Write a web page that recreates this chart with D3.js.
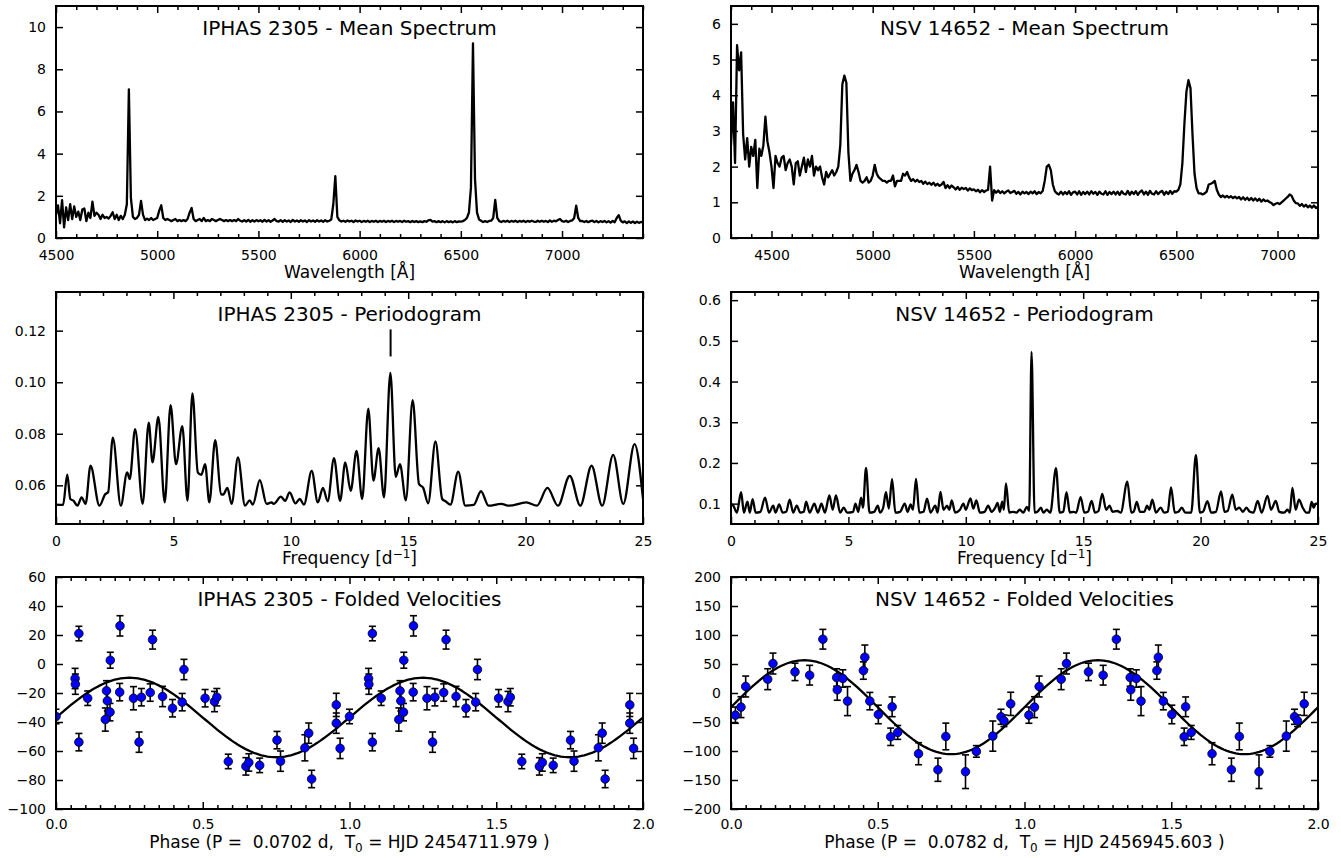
<!DOCTYPE html>
<html>
<head>
<meta charset="utf-8">
<script src="https://cdn.jsdelivr.net/npm/d3@7"></script>
<style>
  body { margin: 0; background: #fff; }
  svg text { font-family: "DejaVu Sans", sans-serif; fill: #000; white-space: pre; }
</style>
</head>
<body>
<svg id="fig" width="1341" height="858"></svg>
<script>
// ---------- Mean spectra (flux sampled every 10 Å) ----------
const specAStart = 4500, specAStep = 10;   // IPHAS 2305
const specAFlux = [
  1.10,1.55,0.70,1.80,0.50,1.45,0.85,1.60,0.90,1.50,
  1.00,1.25,0.85,1.35,1.40,0.80,1.20,0.95,1.72,1.05,
  1.20,1.10,0.90,1.10,0.95,1.00,0.92,1.05,1.22,0.90,
  1.10,0.85,1.05,0.90,1.10,1.60,7.05,1.90,1.00,0.90,
  0.95,1.10,1.76,1.10,0.85,0.92,0.85,0.95,0.85,0.90,
  0.95,1.30,1.55,0.95,0.85,0.90,0.85,0.80,0.85,0.90,
  0.80,0.85,0.80,0.85,0.80,0.90,1.20,1.42,0.90,0.80,
  0.85,0.90,0.80,0.95,0.80,0.85,0.80,0.90,0.85,0.80,
  0.85,0.90,0.85,0.80,0.85,0.80,0.85,0.80,0.85,0.80,
  0.90,0.82,0.78,0.85,0.78,0.86,0.77,0.84,0.78,0.85,
  0.79,0.84,0.77,0.86,0.78,0.84,0.77,0.83,0.90,0.80,
  0.78,0.85,0.77,0.84,0.78,0.83,0.76,0.86,0.78,0.83,
  0.77,0.84,0.78,0.83,0.76,0.85,0.78,0.83,0.77,0.84,
  0.78,0.83,0.77,0.84,0.78,0.82,0.88,1.60,2.93,1.00,
  0.84,0.78,0.82,0.77,0.83,0.78,0.82,0.76,0.83,0.78,
  0.82,0.76,0.81,0.77,0.82,0.76,0.81,0.77,0.82,0.76,
  0.81,0.77,0.82,0.76,0.81,0.77,0.82,0.76,0.81,0.77,
  0.81,0.76,0.82,0.77,0.80,0.75,0.81,0.76,0.80,0.75,
  0.79,0.75,0.80,0.77,0.84,0.86,0.78,0.80,0.75,0.80,
  0.75,0.80,0.74,0.80,0.75,0.79,0.74,0.80,0.75,0.79,
  0.78,0.80,0.85,0.95,1.20,2.40,9.23,2.80,1.20,0.88,
  0.82,0.76,0.80,0.76,0.81,0.82,0.95,1.81,0.95,0.80,
  0.76,0.81,0.77,0.82,0.76,0.81,0.77,0.82,0.76,0.81,
  0.77,0.82,0.76,0.81,0.77,0.82,0.78,0.76,0.82,0.77,
  0.82,0.77,0.81,0.76,0.83,0.77,0.82,0.79,0.85,0.90,
  0.80,0.77,0.82,0.76,0.81,0.83,0.95,1.53,0.95,0.80,
  0.81,0.76,0.81,0.75,0.80,0.82,0.76,0.81,0.74,0.80,
  0.76,0.81,0.74,0.80,0.73,0.81,0.75,0.95,1.08,0.82,
  0.74,0.79,0.71,0.79,0.72,0.78,0.71,0.77,0.72,0.76,
  0.74
];

const specBStart = 4300, specBStep = 10;   // NSV 14652
const specBFlux = [
  2.60,3.80,2.10,5.40,4.70,5.20,2.90,2.20,2.80,2.00,
  2.55,2.30,2.75,1.40,2.50,2.30,2.60,3.40,2.70,2.40,
  2.00,1.40,2.30,2.10,2.00,2.25,2.30,1.90,2.10,2.20,
  2.00,1.50,2.10,2.15,1.75,2.00,2.25,1.85,2.20,2.00,
  2.30,1.75,2.00,1.90,2.00,1.70,1.50,1.85,1.70,1.80,
  1.90,1.75,1.85,2.00,2.60,4.30,4.55,4.35,2.40,1.60,
  1.80,1.90,2.05,1.85,1.60,1.55,1.60,1.70,1.55,1.60,
  1.75,2.05,1.80,1.70,1.65,1.60,1.60,1.55,1.60,1.60,
  1.75,1.45,1.60,1.60,1.60,1.80,1.75,1.85,1.70,1.60,
  1.65,1.58,1.63,1.57,1.60,1.52,1.58,1.51,1.55,1.49,
  1.55,1.47,1.52,1.46,1.50,1.57,1.40,1.48,1.40,1.47,
  1.42,1.36,1.43,1.35,1.41,1.37,1.40,1.33,1.39,1.34,
  1.36,1.31,1.35,1.28,1.34,1.29,1.33,1.35,2.00,1.05,
  1.34,1.27,1.33,1.26,1.31,1.25,1.30,1.33,1.26,1.29,
  1.32,1.24,1.29,1.22,1.30,1.25,1.29,1.23,1.30,1.25,
  1.31,1.23,1.29,1.25,1.32,1.60,2.00,2.05,1.90,1.50,
  1.31,1.25,1.22,1.30,1.22,1.29,1.23,1.31,1.21,1.28,
  1.30,1.22,1.31,1.21,1.29,1.23,1.30,1.22,1.31,1.24,
  1.29,1.21,1.30,1.24,1.22,1.31,1.21,1.29,1.23,1.30,
  1.22,1.30,1.21,1.31,1.24,1.22,1.32,1.21,1.30,1.23,
  1.31,1.21,1.29,1.33,1.22,1.30,1.21,1.32,1.24,1.22,
  1.31,1.23,1.29,1.32,1.21,1.30,1.23,1.32,1.24,1.31,
  1.30,1.35,1.50,2.10,3.20,4.10,4.42,4.20,2.90,1.80,
  1.40,1.25,1.25,1.22,1.25,1.30,1.50,1.52,1.55,1.60,
  1.35,1.22,1.15,1.19,1.14,1.18,1.13,1.17,1.12,1.16,
  1.11,1.15,1.08,1.14,1.07,1.13,1.06,1.12,1.05,1.11,
  1.04,1.10,1.02,1.08,1.03,1.05,1.01,0.98,0.92,0.96,
  0.98,0.95,1.00,1.05,1.10,1.15,1.22,1.18,1.05,0.98,
  0.97,0.90,0.95,0.88,0.93,0.86,0.91,0.85,0.91,0.84,
  0.88
];

// ---------- Periodograms: [frequency (1/d), power] ----------
const pgramA = [
  [0,0.0525],[0.3,0.0524],[0.48,0.0641],[0.61,0.0547],[0.75,0.054],[0.91,0.0521],[1.09,0.0553],
  [1.26,0.0528],[1.47,0.0676],[1.85,0.0521],[2.1,0.0566],[2.22,0.0573],[2.42,0.0785],[2.76,0.0521],
  [3.03,0.065],[3.14,0.0624],[3.37,0.0818],[3.69,0.0528],[3.95,0.0843],[4.11,0.0689],[4.36,0.0865],
  [4.63,0.0534],[4.88,0.0911],[5.11,0.0682],[5.38,0.083],[5.6,0.054],[5.81,0.0957],[6.04,0.065],
  [6.19,0.0641],[6.35,0.0682],[6.53,0.0534],[6.78,0.0775],[7.03,0.0566],[7.12,0.0564],[7.3,0.059],
  [7.48,0.0528],[7.75,0.0708],[8.05,0.0521],[8.25,0.0542],[8.38,0.0525],[8.68,0.062],[8.97,0.0528],
  [9.18,0.0534],[9.27,0.0528],[9.58,0.0556],[9.76,0.054],[9.95,0.0573],[10.2,0.053],[10.38,0.0547],
  [10.56,0.0525],[10.89,0.0656],[11.15,0.0534],[11.37,0.059],[11.57,0.0538],[11.84,0.0705],
  [12.1,0.054],[12.32,0.0689],[12.55,0.0579],[12.8,0.0734],[13.04,0.0547],[13.3,0.0897],
  [13.52,0.0618],[13.74,0.0744],[13.97,0.0553],[14.24,0.1036],[14.47,0.0633],[14.65,0.0682],
  [14.9,0.0542],[15.19,0.093],[15.46,0.0605],[15.64,0.059],[15.85,0.053],[16.16,0.077],
  [16.45,0.0547],[16.59,0.0538],[16.8,0.0525],[17.13,0.0653],[17.43,0.0521],[17.79,0.0524],
  [18.1,0.0577],[18.42,0.0521],[18.96,0.0528],[19.3,0.0521],[20.03,0.0534],[20.48,0.0521],
  [20.93,0.059],[21.38,0.0521],[21.88,0.0637],[22.33,0.0521],[22.81,0.0676],[23.26,0.0521],
  [23.73,0.0718],[24.16,0.0528],[24.64,0.076],[25,0.0547]
];
const pgramAMarkFreq = 14.25, pgramAMarkRange = [0.110, 0.1205];

const pgramB = [
  [0.0,0.10],[0.1,0.095],[0.25,0.078],[0.43,0.128],[0.55,0.078],[0.7,0.105],[0.8,0.078],[0.92,0.111],
  [1.05,0.078],[1.25,0.08],[1.45,0.115],[1.62,0.078],[1.8,0.095],[1.9,0.078],[2.05,0.098],[2.2,0.078],
  [2.35,0.08],[2.5,0.11],[2.65,0.078],[2.8,0.095],[2.95,0.078],[3.1,0.08],[3.2,0.105],[3.35,0.078],
  [3.55,0.1],[3.7,0.078],[3.85,0.1],[4.0,0.078],[4.19,0.12],[4.33,0.085],[4.47,0.12],[4.65,0.078],
  [4.8,0.09],[4.95,0.078],[5.2,0.08],[5.3,0.1],[5.42,0.08],[5.54,0.115],[5.62,0.09],[5.75,0.188],
  [5.9,0.078],[6.1,0.08],[6.25,0.095],[6.35,0.078],[6.48,0.09],[6.6,0.128],[6.72,0.088],[6.86,0.16],
  [7.0,0.078],[7.2,0.08],[7.4,0.1],[7.52,0.08],[7.65,0.098],[7.75,0.085],[7.88,0.161],[8.02,0.078],
  [8.2,0.08],[8.35,0.112],[8.5,0.078],[8.7,0.095],[8.8,0.078],[8.92,0.129],[9.05,0.085],[9.2,0.095],
  [9.3,0.085],[9.4,0.108],[9.55,0.078],[9.75,0.085],[9.9,0.1],[10.0,0.085],[10.2,0.113],[10.32,0.088],
  [10.45,0.108],[10.6,0.078],[10.8,0.08],[10.95,0.095],[11.1,0.08],[11.25,0.09],[11.35,0.102],
  [11.45,0.08],[11.55,0.105],[11.62,0.085],[11.71,0.15],[11.85,0.078],[12.0,0.08],[12.15,0.078],
  [12.3,0.085],[12.45,0.078],[12.6,0.092],[12.7,0.082],[12.8,0.473],[12.93,0.078],[13.05,0.08],
  [13.2,0.09],[13.3,0.078],[13.45,0.085],[13.6,0.078],[13.84,0.187],[14.0,0.078],[14.15,0.08],
  [14.29,0.128],[14.43,0.078],[14.6,0.08],[14.7,0.078],[14.89,0.116],[15.05,0.078],[15.2,0.08],
  [15.36,0.107],[15.5,0.078],[15.65,0.082],[15.81,0.124],[15.98,0.085],[16.12,0.095],[16.25,0.08],
  [16.45,0.082],[16.6,0.078],[16.88,0.154],[17.05,0.078],[17.15,0.08],[17.28,0.104],[17.42,0.08],
  [17.6,0.08],[17.72,0.095],[17.82,0.085],[17.94,0.11],[18.1,0.078],[18.3,0.09],[18.45,0.078],
  [18.6,0.08],[18.74,0.14],[18.9,0.078],[19.05,0.08],[19.2,0.09],[19.35,0.078],[19.6,0.078],
  [19.8,0.22],[19.97,0.078],[20.1,0.08],[20.29,0.106],[20.45,0.078],[20.65,0.08],[20.87,0.13],
  [21.02,0.08],[21.15,0.082],[21.35,0.122],[21.5,0.085],[21.65,0.09],[21.8,0.08],[21.95,0.09],
  [22.1,0.08],[22.25,0.078],[22.43,0.107],[22.6,0.078],[22.85,0.119],[23.0,0.085],[23.2,0.107],
  [23.35,0.08],[23.55,0.078],[23.7,0.085],[23.8,0.078],[23.91,0.139],[24.05,0.085],[24.19,0.11],
  [24.35,0.09],[24.5,0.078],[24.62,0.078],[24.73,0.104],[24.82,0.09],[24.9,0.1],[25.0,0.1]
];

// ---------- Radial velocities: [phase, velocity (km/s), error] ----------
const rvA = [
  [0.000,-36.2,5],[0.065,-10.0,7],[0.066,-13.9,7],[0.078,21.0,5],[0.078,-53.9,6],[0.108,-23.6,5],
  [0.168,-38.3,8],[0.172,-18.5,7],[0.175,-25.4,7],[0.184,-33.2,6],[0.185,2.6,5.5],[0.217,-19.4,6],
  [0.218,26.3,7],[0.264,-23.6,8],[0.283,-53.9,7],[0.291,-22.9,6],[0.321,-19.7,6],[0.329,16.8,6.5],
  [0.363,-22.4,7],[0.397,-30.5,6],[0.430,-26.3,6],[0.436,-3.8,7],[0.508,-23.6,6],[0.540,-25.9,7],
  [0.548,-22.9,6],[0.587,-67.2,5],[0.647,-70.6,6],[0.657,-67.9,6],[0.694,-69.9,5],[0.753,-52.5,6],
  [0.765,-67.0,7],[0.848,-57.8,9],[0.861,-47.7,7],[0.871,-79.3,6],[0.955,-28.2,8],[0.955,-40.8,7],
  [0.968,-58.2,7]
];
const fitA = { gamma: -36.9, K: 27.4 };

const rvB = [
  [0.015,-38.2,14],[0.034,-24.4,18],[0.050,11.2,18],[0.125,23.8,18],[0.143,50.8,18],[0.218,36.4,15],
  [0.268,30.7,17],[0.313,92.7,17],[0.360,26.7,15],[0.362,5.5,18],[0.381,25.0,15],[0.397,-14.0,25],
  [0.451,38.7,15],[0.456,61.7,21],[0.473,-14.0,15],[0.502,-37.0,16],[0.544,-75.5,15],[0.549,-23.8,17],
  [0.568,-68.0,12],[0.639,-104.7,19],[0.705,-132.3,20],[0.732,-74.9,23],[0.799,-135.7,29],
  [0.836,-100.7,10],[0.892,-74.3,26],[0.920,-41.0,13],[0.930,-47.9,10],[0.953,-18.7,20]
];
const fitB = { gamma: -24.5, K: 81.0 };

// ---------- Layout ----------
const svg = d3.select("#fig");
const W = 587, H = 232;
const colX = [56, 731];
const rowY = [6, 292, 577];
const dataStroke = 2.3;
let clipCount = 0;

function panel(o) {
  const x = d3.scaleLinear().domain(o.xDomain).range([0, W]);
  const y = d3.scaleLinear().domain(o.yDomain).range([H, 0]);
  const g = svg.append("g").attr("transform", `translate(${o.x0},${o.y0})`);
  const id = "clip" + (clipCount++);
  g.append("clipPath").attr("id", id).append("rect").attr("width", W).attr("height", H);
  const plot = g.append("g").attr("clip-path", `url(#${id})`);

  const strip = sel => sel.select(".domain").remove();
  const styleTicks = sel => sel.selectAll("line").attr("stroke", "#000").attr("stroke-width", 1.5);
  const minorX = o.xMinor.filter(v => !o.xMajor.some(m => Math.abs(m - v) < 1e-9));

  // bottom + top (major and minor)
  const bot = g.append("g").attr("transform", `translate(0,${H})`)
    .call(d3.axisBottom(x).tickValues(o.xMajor).tickSize(-7).tickSizeOuter(0).tickPadding(o.tickPad).tickFormat(o.xFmt));
  strip(bot); styleTicks(bot);
  bot.selectAll("text").attr("font-size", 14);
  const botMin = g.append("g").attr("transform", `translate(0,${H})`)
    .call(d3.axisBottom(x).tickValues(minorX).tickSize(-4).tickSizeOuter(0).tickFormat(""));
  strip(botMin); styleTicks(botMin);
  const top = g.append("g")
    .call(d3.axisTop(x).tickValues(o.xMajor).tickSize(-7).tickSizeOuter(0).tickFormat(""));
  strip(top); styleTicks(top);
  const topMin = g.append("g")
    .call(d3.axisTop(x).tickValues(minorX).tickSize(-4).tickSizeOuter(0).tickFormat(""));
  strip(topMin); styleTicks(topMin);

  // left + right
  const left = g.append("g")
    .call(d3.axisLeft(y).tickValues(o.yMajor).tickSize(-7).tickSizeOuter(0).tickPadding(10).tickFormat(o.yFmt));
  strip(left); styleTicks(left);
  left.selectAll("text").attr("font-size", 14);
  const right = g.append("g").attr("transform", `translate(${W},0)`)
    .call(d3.axisRight(y).tickValues(o.yMajor).tickSize(-7).tickSizeOuter(0).tickFormat(""));
  strip(right); styleTicks(right);

  // frame
  g.append("rect").attr("width", W).attr("height", H)
    .attr("fill", "none").attr("stroke", "#000").attr("stroke-width", 2);

  // title
  g.append("text").attr("x", W / 2).attr("y", 29).attr("text-anchor", "middle")
    .attr("font-size", 20).text(o.title);

  // x label
  const xl = g.append("text").attr("x", W / 2).attr("y", H + o.labelOffset)
    .attr("text-anchor", "middle").attr("font-size", 17);
  o.xlabel(xl);

  return { x, y, g, plot };
}

const fmtInt = d3.format("d");
const specMinorA = d3.range(4500, 7401, 100);
const specMinorB = d3.range(4300, 7201, 100);
const specMajor = d3.range(4500, 7001, 500);
const freqMajor = d3.range(0, 26, 5), freqMinor = d3.range(0, 26, 1);
const phaseMajor = [0, 0.5, 1, 1.5, 2];
const phaseMinor = d3.range(0, 41).map(i => i * 0.05);

const plainLabel = s => t => t.text(s);
const wlLabel = plainLabel("Wavelength [Å]");
const freqLabel = t => { t.append("tspan").text("Frequency [d");
  t.append("tspan").attr("font-size", 12).attr("dy", -6).text("−1");
  t.append("tspan").attr("dy", 6).text("]"); };
const phaseLabel = (P, T0) => t => {
  t.append("tspan").text(`Phase (P =  ${P} d,  T`);
  t.append("tspan").attr("font-size", 12).attr("dy", 4).text("0");
  t.append("tspan").attr("dy", -4).text(` = HJD ${T0} )`);
};

function drawSpectrum(p, start, step, flux) {
  const pts = flux.map((f, i) => [start + i * step, f]);
  p.plot.append("path").datum(pts)
    .attr("fill", "none").attr("stroke", "#000").attr("stroke-width", dataStroke).attr("stroke-linejoin", "round")
    .attr("d", d3.line().x(d => p.x(d[0])).y(d => p.y(d[1])));
}
function drawPgram(p, pts) {
  p.plot.append("path").datum(pts)
    .attr("fill", "none").attr("stroke", "#000").attr("stroke-width", dataStroke).attr("stroke-linejoin", "round")
    .attr("d", d3.line().curve(d3.curveMonotoneX).x(d => p.x(d[0])).y(d => p.y(d[1])));
}
function drawRV(p, rv, fit) {
  const phases = d3.range(0, 201).map(i => i / 100);
  p.plot.append("path").datum(phases)
    .attr("fill", "none").attr("stroke", "#000").attr("stroke-width", dataStroke)
    .attr("d", d3.line().x(d => p.x(d)).y(d => p.y(fit.gamma + fit.K * Math.sin(2 * Math.PI * d))));
  const both = rv.map(d => d).concat(rv.map(d => [d[0] + 1, d[1], d[2]]));
  const eb = p.plot.append("g").attr("stroke", "#000").attr("stroke-width", 1.6);
  both.forEach(d => {
    const cx = p.x(d[0]), y1 = p.y(d[1] - d[2]), y2 = p.y(d[1] + d[2]);
    eb.append("line").attr("x1", cx).attr("x2", cx).attr("y1", y1).attr("y2", y2);
    eb.append("line").attr("x1", cx - 3.5).attr("x2", cx + 3.5).attr("y1", y1).attr("y2", y1);
    eb.append("line").attr("x1", cx - 3.5).attr("x2", cx + 3.5).attr("y1", y2).attr("y2", y2);
  });
  p.plot.append("g").selectAll("circle").data(both).join("circle")
    .attr("cx", d => p.x(d[0])).attr("cy", d => p.y(d[1])).attr("r", 4.3)
    .attr("fill", "#0000ff").attr("stroke", "#000").attr("stroke-width", 0.8);
}

// Row 1: mean spectra
const s1 = panel({ x0: colX[0], y0: rowY[0], xDomain: [4500, 7400], yDomain: [0, 11],
  xMajor: specMajor, xMinor: specMinorA, yMajor: d3.range(0, 11, 2), xFmt: fmtInt, yFmt: fmtInt,
  title: "IPHAS 2305 - Mean Spectrum", xlabel: wlLabel, labelOffset: 40, tickPad: 12 });
drawSpectrum(s1, specAStart, specAStep, specAFlux);

const s2 = panel({ x0: colX[1], y0: rowY[0], xDomain: [4300, 7200], yDomain: [0, 6.5],
  xMajor: specMajor, xMinor: specMinorB, yMajor: d3.range(0, 7, 1), xFmt: fmtInt, yFmt: fmtInt,
  title: "NSV 14652 - Mean Spectrum", xlabel: wlLabel, labelOffset: 40, tickPad: 12 });
drawSpectrum(s2, specBStart, specBStep, specBFlux);

// Row 2: periodograms
const p1 = panel({ x0: colX[0], y0: rowY[1], xDomain: [0, 25], yDomain: [0.045, 0.135],
  xMajor: freqMajor, xMinor: freqMinor, yMajor: [0.06, 0.08, 0.10, 0.12], xFmt: fmtInt, yFmt: d3.format(".2f"),
  title: "IPHAS 2305 - Periodogram", xlabel: freqLabel, labelOffset: 40, tickPad: 12 });
drawPgram(p1, pgramA);
p1.plot.append("line")
  .attr("x1", p1.x(pgramAMarkFreq)).attr("x2", p1.x(pgramAMarkFreq))
  .attr("y1", p1.y(pgramAMarkRange[0])).attr("y2", p1.y(pgramAMarkRange[1]))
  .attr("stroke", "#000").attr("stroke-width", 2);

const p2 = panel({ x0: colX[1], y0: rowY[1], xDomain: [0, 25], yDomain: [0.05, 0.62],
  xMajor: freqMajor, xMinor: freqMinor, yMajor: [0.1, 0.2, 0.3, 0.4, 0.5, 0.6], xFmt: fmtInt, yFmt: d3.format(".1f"),
  title: "NSV 14652 - Periodogram", xlabel: freqLabel, labelOffset: 40, tickPad: 12 });
drawPgram(p2, pgramB);

// Row 3: folded radial velocities
const v1 = panel({ x0: colX[0], y0: rowY[2], xDomain: [0, 2], yDomain: [-100, 60],
  xMajor: phaseMajor, xMinor: phaseMinor, yMajor: d3.range(-100, 61, 20), xFmt: d3.format(".1f"), yFmt: fmtInt,
  title: "IPHAS 2305 - Folded Velocities", xlabel: phaseLabel("0.0702", "2454711.979"), labelOffset: 39, tickPad: 10 });
drawRV(v1, rvA, fitA);

const v2 = panel({ x0: colX[1], y0: rowY[2], xDomain: [0, 2], yDomain: [-200, 200],
  xMajor: phaseMajor, xMinor: phaseMinor, yMajor: d3.range(-200, 201, 50), xFmt: d3.format(".1f"), yFmt: fmtInt,
  title: "NSV 14652 - Folded Velocities", xlabel: phaseLabel("0.0782", "2456945.603"), labelOffset: 39, tickPad: 10 });
drawRV(v2, rvB, fitB);
</script>
</body>
</html>
